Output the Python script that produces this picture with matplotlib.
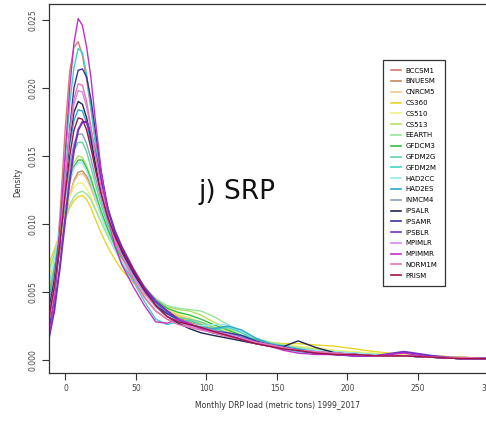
import numpy as np
import matplotlib
matplotlib.use("Agg")
import matplotlib.pyplot as plt

# density curves, values in units of 1e-3
load_x = [-12, -8, -4, 0, 3, 6, 9, 12, 15, 18, 21, 25, 30, 35, 40,
          48, 56, 64, 72, 80, 88, 96, 105, 115, 125, 135, 145, 155, 165, 178,
          192, 206, 220, 240, 260, 280, 300, 310]

models = ["BCCSM1", "BNUESM", "CNRCM5", "CS360", "CS510", "CS513", "EEARTH",
          "GFDCM3", "GFDM2G", "GFDM2M", "HAD2CC", "HAD2ES", "INMCM4", "IPSALR",
          "IPSAMR", "IPSBLR", "MPIMLR", "MPIMMR", "NORM1M", "PRISM"]

colors = ["#d47a6e", "#c48a5c", "#f2c48a", "#e8d42a", "#eef27a", "#b4e064",
          "#96e49a", "#34c044", "#64d2a4", "#3ed4c4", "#9ae8f2", "#2ea6cc",
          "#86a2c4", "#1e2652", "#3632a4", "#7430c4", "#d688e4", "#c42ec8",
          "#e676b6", "#a01444"]

BCCSM1 = [2.5, 5.3, 10.5, 17.3, 21.2, 23.0, 23.4, 22.4, 20.6, 18.5, 16.3, 13.5, 10.7, 8.6, 7.2,
          5.9, 4.6, 3.6, 3.0, 2.7, 2.5, 2.3, 2.0, 1.7, 1.4, 1.2, 1.0, 0.8, 0.7, 0.5,
          0.4, 0.4, 0.3, 0.3, 0.2, 0.2, 0.1, 0.1]
BNUESM = [3.5, 5.6, 8.0, 10.5, 12.1, 13.2, 13.8, 13.9, 13.5, 12.8, 12.0, 10.8, 9.5, 8.3, 7.4,
          6.3, 5.2, 4.3, 3.6, 3.1, 2.8, 2.5, 2.2, 1.9, 1.6, 1.3, 1.1, 0.9, 0.8, 0.6,
          0.5, 0.4, 0.3, 0.3, 0.2, 0.1, 0.1, 0.1]
CNRCM5 = [4.5, 6.3, 8.5, 10.8, 12.2, 13.1, 13.6, 13.7, 13.3, 12.6, 11.8, 10.7, 9.4, 8.3, 7.4,
          6.3, 5.2, 4.3, 3.7, 3.3, 3.0, 2.7, 2.4, 2.0, 1.7, 1.4, 1.2, 1.0, 0.9, 0.7,
          0.6, 0.5, 0.4, 0.3, 0.3, 0.2, 0.1, 0.1]
CS360 = [7.0, 8.1, 9.3, 10.4, 11.2, 11.7, 12.0, 12.1, 11.8, 11.2, 10.4, 9.4, 8.3, 7.4, 6.6,
         5.7, 4.8, 4.1, 3.6, 3.2, 2.9, 2.6, 2.3, 2.0, 1.7, 1.5, 1.3, 1.2, 1.2, 1.1,
         1.0, 0.8, 0.6, 0.4, 0.3, 0.2, 0.1, 0.1]
CS510 = [6.0, 7.6, 9.4, 11.0, 12.0, 12.7, 13.0, 13.0, 12.6, 12.0, 11.2, 10.2, 9.1, 8.1, 7.3,
         6.2, 5.2, 4.4, 3.8, 3.4, 3.1, 2.8, 2.5, 2.1, 1.8, 1.5, 1.3, 1.1, 1.0, 0.9,
         0.7, 0.6, 0.5, 0.4, 0.3, 0.2, 0.1, 0.1]
CS513 = [5.0, 7.0, 9.4, 11.8, 13.4, 14.5, 15.0, 14.9, 14.3, 13.4, 12.4, 11.0, 9.6, 8.4, 7.5,
         6.4, 5.3, 4.5, 3.9, 3.7, 3.6, 3.3, 2.8, 2.3, 1.8, 1.4, 1.2, 1.0, 0.9, 0.8,
         0.6, 0.5, 0.4, 0.3, 0.2, 0.2, 0.1, 0.1]
EEARTH = [6.5, 7.8, 9.2, 10.5, 11.4, 12.0, 12.3, 12.4, 12.2, 11.8, 11.1, 10.2, 9.1, 8.1, 7.2,
          6.2, 5.2, 4.5, 4.0, 3.8, 3.7, 3.6, 3.2, 2.6, 2.0, 1.6, 1.3, 1.1, 0.9, 0.7,
          0.6, 0.5, 0.4, 0.3, 0.2, 0.2, 0.1, 0.1]
GFDCM3 = [4.5, 6.6, 9.0, 11.5, 13.1, 14.2, 14.7, 14.7, 14.1, 13.3, 12.3, 11.0, 9.6, 8.4, 7.5,
          6.4, 5.3, 4.4, 3.8, 3.5, 3.3, 3.0, 2.6, 2.2, 1.8, 1.5, 1.2, 1.0, 0.8, 0.6,
          0.5, 0.4, 0.3, 0.3, 0.2, 0.1, 0.1, 0.1]
GFDM2G = [4.5, 6.6, 9.3, 12.2, 14.1, 15.4, 16.0, 16.0, 15.3, 14.2, 13.0, 11.5, 9.9, 8.6, 7.7,
          6.4, 5.2, 4.2, 3.5, 3.1, 3.0, 2.8, 2.4, 2.0, 1.6, 1.3, 1.1, 0.9, 0.7, 0.6,
          0.5, 0.4, 0.3, 0.3, 0.2, 0.1, 0.1, 0.1]
GFDM2M = [3.0, 5.5, 9.8, 15.0, 18.8, 21.5, 22.9, 22.6, 21.0, 18.6, 16.0, 13.0, 10.3, 8.4, 7.0,
          5.8, 4.3, 3.0, 2.6, 2.8, 2.9, 2.6, 2.2, 2.4, 2.0, 1.4, 1.1, 0.8, 0.6, 0.5,
          0.4, 0.3, 0.3, 0.3, 0.2, 0.1, 0.1, 0.1]
HAD2CC = [5.5, 7.3, 9.5, 11.7, 13.1, 14.1, 14.5, 14.5, 13.9, 13.0, 12.0, 10.7, 9.3, 8.1, 7.2,
          6.1, 4.9, 3.9, 3.2, 2.8, 2.6, 2.5, 2.6, 2.6, 2.1, 1.6, 1.2, 1.0, 0.8, 0.7,
          0.6, 0.5, 0.4, 0.3, 0.2, 0.1, 0.1, 0.1]
HAD2ES = [4.0, 6.3, 9.5, 13.2, 15.8, 17.6, 18.4, 18.3, 17.4, 16.0, 14.4, 12.4, 10.5, 9.1, 8.0,
          6.5, 5.2, 4.2, 3.4, 2.9, 2.6, 2.4, 2.3, 2.5, 2.2, 1.6, 1.2, 1.0, 0.8, 0.6,
          0.5, 0.4, 0.3, 0.3, 0.2, 0.1, 0.1, 0.1]
INMCM4 = [4.0, 6.2, 9.0, 12.2, 14.4, 15.9, 16.6, 16.6, 15.9, 14.8, 13.5, 11.9, 10.2, 8.9, 7.9,
          6.6, 5.4, 4.4, 3.6, 3.0, 2.6, 2.4, 2.2, 2.0, 1.7, 1.4, 1.1, 0.9, 0.7, 0.6,
          0.5, 0.4, 0.3, 0.3, 0.2, 0.1, 0.1, 0.1]
IPSALR = [3.5, 5.8, 9.2, 13.4, 16.2, 18.2, 19.0, 18.8, 17.8, 16.3, 14.6, 12.5, 10.5, 9.0, 7.9,
          6.4, 5.1, 4.0, 3.2, 2.7, 2.3, 2.0, 1.8, 1.6, 1.4, 1.2, 1.0, 1.0, 1.4, 0.9,
          0.5, 0.4, 0.3, 0.3, 0.2, 0.1, 0.1, 0.1]
IPSAMR = [2.0, 4.5, 8.5, 13.5, 17.0, 20.0, 21.3, 21.4, 20.8, 19.2, 17.0, 14.0, 11.2, 9.3, 8.0,
          6.3, 5.0, 4.0, 3.4, 3.0, 2.6, 2.3, 2.1, 2.0, 1.8, 1.4, 1.1, 0.9, 0.7, 0.5,
          0.4, 0.3, 0.3, 0.3, 0.2, 0.1, 0.1, 0.1]
IPSBLR = [1.5, 3.6, 6.8, 10.5, 13.2, 15.4, 16.9, 17.5, 17.5, 16.7, 15.3, 13.3, 11.1, 9.5, 8.3,
          6.7, 5.3, 4.3, 3.6, 3.0, 2.6, 2.3, 2.0, 1.8, 1.6, 1.3, 1.1, 0.9, 0.7, 0.5,
          0.4, 0.3, 0.3, 0.6, 0.3, 0.1, 0.1, 0.1]
MPIMLR = [3.2, 5.4, 9.0, 13.6, 16.6, 18.8, 19.8, 19.7, 18.6, 17.0, 15.1, 12.8, 10.6, 8.9, 7.7,
          6.2, 4.9, 3.9, 3.2, 2.8, 2.5, 2.3, 2.1, 1.9, 1.6, 1.3, 1.1, 0.9, 0.7, 0.6,
          0.5, 0.4, 0.3, 0.3, 0.2, 0.1, 0.1, 0.1]
MPIMMR = [1.5, 4.5, 9.5, 15.5, 20.0, 23.3, 25.1, 24.6, 23.0, 20.8, 17.8, 14.2, 10.6, 8.4, 7.0,
          5.4, 4.0, 2.8, 2.7, 3.0, 2.7, 2.3, 2.0, 1.8, 1.5, 1.2, 1.0, 0.7, 0.5, 0.4,
          0.4, 0.3, 0.3, 0.5, 0.2, 0.1, 0.1, 0.1]
NORM1M = [2.8, 5.0, 8.8, 13.6, 16.8, 19.2, 20.3, 20.2, 19.0, 17.2, 15.2, 12.8, 10.5, 8.8, 7.6,
          6.0, 4.6, 3.6, 3.0, 2.6, 2.4, 2.2, 2.0, 1.7, 1.5, 1.3, 1.1, 0.9, 0.7, 0.6,
          0.5, 0.4, 0.3, 0.3, 0.2, 0.2, 0.1, 0.1]
PRISM = [3.0, 5.3, 8.6, 12.4, 15.0, 16.9, 17.8, 17.7, 16.9, 15.6, 14.1, 12.3, 10.5, 9.1, 8.1,
         6.6, 5.2, 4.0, 3.2, 2.8, 2.6, 2.4, 2.1, 1.8, 1.5, 1.2, 1.0, 0.8, 0.7, 0.5,
         0.4, 0.4, 0.3, 0.3, 0.2, 0.1, 0.1, 0.1]

curves = [BCCSM1, BNUESM, CNRCM5, CS360, CS510, CS513, EEARTH, GFDCM3, GFDM2G, GFDM2M,
          HAD2CC, HAD2ES, INMCM4, IPSALR, IPSAMR, IPSBLR, MPIMLR, MPIMMR, NORM1M, PRISM]

x_ticks = [0, 50, 100, 150, 200, 250, 300]
y_ticks = [0.000, 0.005, 0.010, 0.015, 0.020, 0.025]

narrow = ["Liberation Sans Narrow", "DejaVu Sans"]

fig = plt.figure(figsize=(4.86, 4.21), dpi=100)
# axes runs past the right edge, the original figure was cropped there
ax = fig.add_axes([0.1008, 0.114, 0.9333, 0.8758])

for name, vals, col in zip(models, curves, colors):
    lw = 1.5 if name == "IPSBLR" else 1.0
    ax.plot(load_x, np.array(vals) / 1000, color=col, lw=lw, label=name)

ax.set_xlim(-11.7, 310)
ax.set_ylim(-0.00096, 0.02615)
ax.set_xticks(x_ticks)
ax.set_yticks(y_ticks)
ax.set_xticklabels([str(t) for t in x_ticks], family=narrow, fontsize=5.5, color="#444")
ax.set_yticklabels(["%.3f" % t for t in y_ticks], family=narrow, fontsize=5.5,
                   color="#444", rotation=90, va="center")
ax.tick_params(direction="out", length=5, width=0.8, color="#333")
ax.tick_params(axis="x", pad=3)
ax.tick_params(axis="y", pad=3)
for s in ax.spines.values():
    s.set_color("#333")
    s.set_linewidth(0.9)

fig.text(18 / 486, 1 - 182 / 421, "Density", rotation=90, ha="center", va="center",
         family=narrow, fontsize=5.5, color="#333")
fig.text(277 / 486, 1 - 405 / 421, "Monthly DRP load (metric tons) 1999_2017",
         ha="center", va="center", family=narrow, fontsize=5.5, color="#333")

fig.text(198 / 486, 1 - 199 / 421, "j) SRP", ha="left", va="baseline",
         fontsize=19, family="DejaVu Sans", color="#111")

leg = ax.legend(loc="upper left", bbox_to_anchor=(383 / 486, 1 - 60 / 421),
                bbox_transform=fig.transFigure, borderaxespad=0,
                prop={"family": narrow, "size": 5}, handlelength=1.45,
                handletextpad=0.7, labelspacing=0.69, borderpad=1.1,
                fancybox=False, framealpha=1)
leg.get_frame().set_edgecolor("#333")
leg.get_frame().set_linewidth(0.9)
for line in leg.get_lines():
    line.set_linewidth(1.2)

fig.savefig("out.png", dpi=100)
